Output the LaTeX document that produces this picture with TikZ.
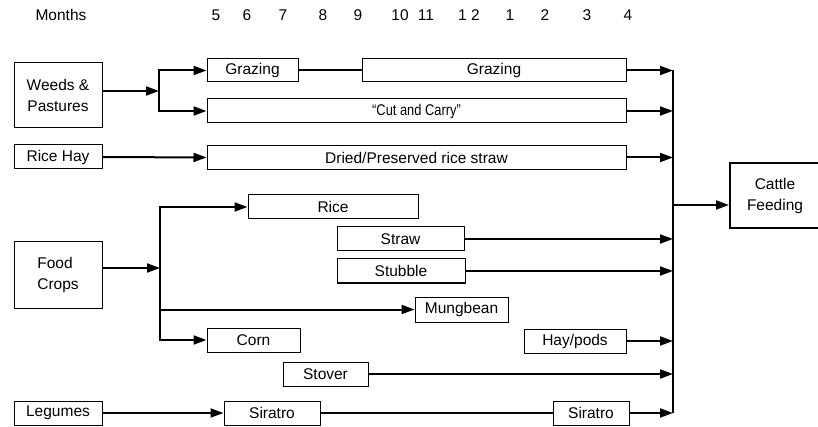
\documentclass[tikz,border=0pt]{standalone}
\usepackage{fontspec}
\setmainfont{Liberation Sans}
\usepackage{graphicx}
\usetikzlibrary{arrows.meta}
\begin{document}
\begin{tikzpicture}[x=1pt,y=-1pt,
  every node/.style={font=\fontsize{15.5}{21}\selectfont, inner sep=0pt},
  bx/.style={draw, line width=1pt, minimum height=24pt},
  conn/.style={line width=2pt},
  arr/.style={line width=2pt, -{Triangle[length=13pt,width=9pt]}},
  lbl/.style={anchor=center}
]
\useasboundingbox (0,0) rectangle (818,427);
% month header
\node[lbl] (months) at (61,15) {Months};
\node[lbl] (m5) at (216,15) {5};
\node[lbl] (m6) at (247,15) {6};
\node[lbl] (m7) at (283,15) {7};
\node[lbl] (m8) at (323,15) {8};
\node[lbl] (m9) at (358,15) {9};
\node[lbl] (m10) at (400,15) {10};
\node[lbl] (m11) at (426,15) {11};
\node[lbl] (m12) at (469,15) {1 2};
\node[lbl] (m1) at (510,15) {1};
\node[lbl] (m2) at (545,15) {2};
\node[lbl] (m3) at (587,15) {3};
\node[lbl] (m4) at (628,15) {4};
% sources
\node[bx, minimum width=88pt, minimum height=65pt, align=center] (weeds) at (58,95.5) {Weeds \&\\Pastures};
\node[bx, minimum width=88pt] (ricehay) at (58,157) {Rice Hay};
\node[bx, minimum width=88pt, minimum height=66pt, align=left] (food) at (58,275) {Food\\Crops};
\node[bx, minimum width=88pt] (legumes) at (58,413) {Legumes};
% feed boxes
\node[bx, minimum width=91pt, minimum height=23pt] (graz1) at (252.5,70.5) {Grazing};
\node[bx, minimum width=264pt, minimum height=23pt] (graz2) at (494,70.5) {Grazing};
\node[bx, minimum width=419pt] (cut) at (416.5,111) {\scalebox{0.83}[1]{``Cut and Carry''}};
\node[bx, minimum width=419pt] (dried) at (416.5,157.5) {Dried/Preserved rice straw};
\node[bx, minimum width=170pt] (rice) at (333,207) {Rice};
\node[bx, minimum width=127pt] (straw) at (400.5,239) {Straw};
\node[bx, minimum width=128pt] (stubble) at (401,271) {Stubble};
\node[bx, minimum width=93pt, minimum height=25pt] (mung) at (461.5,309.5) {Mungbean};
\node[bx, minimum width=93pt] (corn) at (253.5,340) {Corn};
\node[bx, minimum width=102pt] (haypods) at (575,341) {Hay/pods};
\node[bx, minimum width=85pt] (stover) at (325.5,374) {Stover};
\node[bx, minimum width=96pt] (sir1) at (272,413) {Siratro};
\node[bx, minimum width=76pt] (sir2) at (591,413) {Siratro};
\node[draw, line width=2pt, minimum width=90pt, minimum height=65pt, align=center] (cattle) at (775,195.5) {Cattle\\Feeding};
% junctions
\coordinate (wj) at (159,91);
\coordinate (fj) at (160,268);
\coordinate (bus) at (673,205);
% weeds branch
\draw[arr] (weeds.east |- wj) -- (wj);
\draw[conn] (wj |- graz1.west) -- (wj |- cut.west);
\draw[arr] ([xshift=-1pt]wj |- graz1.west) -- (graz1.west);
\draw[arr] ([xshift=-1pt]wj |- cut.west) -- (cut.west);
\draw[conn] (graz1.east) -- (graz2.west);
% rice hay
\draw[arr] (ricehay.east) -- (dried.west);
% food crops branch
\draw[arr] (food.east |- fj) -- (fj);
\draw[conn] (fj |- rice.west) -- (fj |- corn.west);
\draw[arr] ([xshift=-1pt]fj |- rice.west) -- (rice.west);
\draw[arr] ([xshift=-1pt]fj |- mung.west) -- (mung.west);
\draw[arr] ([xshift=-1pt]fj |- corn.west) -- (corn.west);
% legumes
\draw[arr] (legumes.east) -- (sir1.west);
\draw[conn] (sir1.east) -- (sir2.west);
% collector
\draw[conn] (bus |- graz2.east) -- (bus |- sir2.east);
\foreach \n in {graz2,cut,dried,straw,stubble,haypods,stover,sir2}{
  \draw[arr] (\n.east) -- (bus |- \n.east);
}
\draw[arr] (bus) -- (cattle.west |- bus);
\end{tikzpicture}
\end{document}
